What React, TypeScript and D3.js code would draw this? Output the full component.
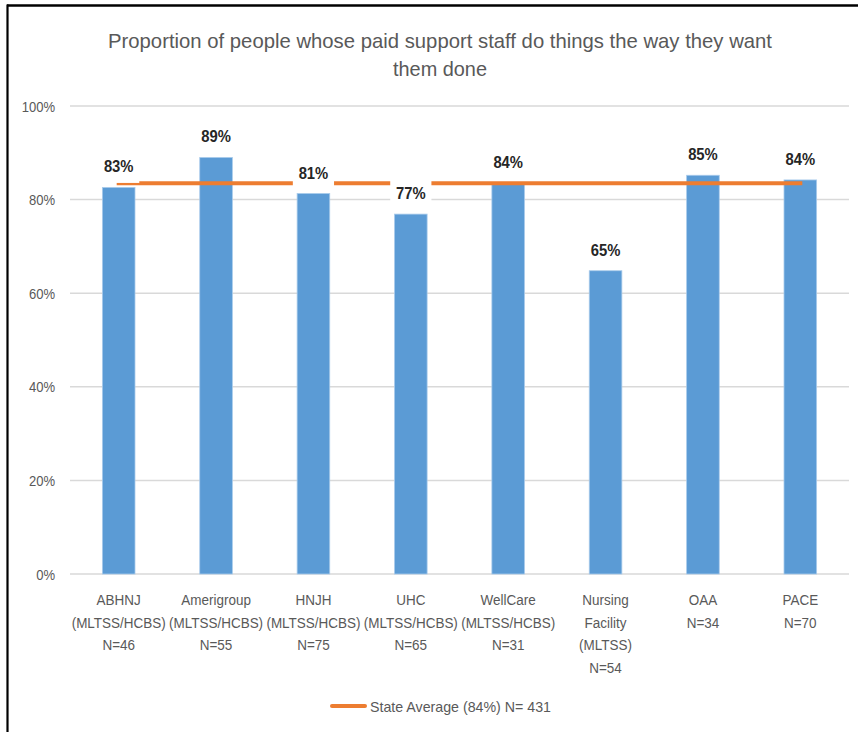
import React from "react";
import * as d3 from "d3";

const categories: string[][] = [
  ["ABHNJ", "(MLTSS/HCBS)", "N=46"],
  ["Amerigroup", "(MLTSS/HCBS)", "N=55"],
  ["HNJH", "(MLTSS/HCBS)", "N=75"],
  ["UHC", "(MLTSS/HCBS)", "N=65"],
  ["WellCare", "(MLTSS/HCBS)", "N=31"],
  ["Nursing", "Facility", "(MLTSS)", "N=54"],
  ["OAA", "N=34"],
  ["PACE", "N=70"],
];
const categoryKeys = ["ABHNJ", "Amerigroup", "HNJH", "UHC", "WellCare", "Nursing Facility", "OAA", "PACE"];
const values = [0.826, 0.89, 0.813, 0.769, 0.836, 0.648, 0.852, 0.842];
const stateAverage = [0.835, 0.835, 0.835, 0.835, 0.835, 0.835, 0.835, 0.835];
const yTicks = [0, 0.2, 0.4, 0.6, 0.8, 1.0];
const titleLines = [
  "Proportion of people whose paid support staff do things the way they want",
  "them done",
];
const legendLabel = "State Average (84%) N= 431";

const W = 858;
const H = 732;
const FONT = "'Liberation Sans', Arial, sans-serif";
const SX = 0.87;

type NT = {
  x: number;
  y: number;
  anchor?: "start" | "middle" | "end";
  size: number;
  weight?: string;
  fill: string;
  children: React.ReactNode;
};

function NarrowText({ x, y, anchor = "start", size, weight = "normal", fill, children }: NT) {
  return (
    <g transform={`translate(${x},${y}) scale(${SX},1)`}>
      <text x={0} y={0} textAnchor={anchor} fontSize={size} fontWeight={weight} fill={fill}>
        {children}
      </text>
    </g>
  );
}

export default function App() {
  const x = d3.scaleBand<string>().domain(categoryKeys).range([70, 849]).paddingInner(0).paddingOuter(0);
  const y = d3.scaleLinear().domain([0, 1]).range([574, 106]);
  const bw = x.bandwidth() * 0.335;
  const fmt = d3.format(".0%");
  const cx = (k: string) => (x(k) as number) + x.bandwidth() / 2;

  const line = d3
    .line<number>()
    .x((_, i) => cx(categoryKeys[i]))
    .y((d) => y(d));

  return (
    <svg
      width={W}
      height={H}
      style={{ position: "absolute", left: 0, top: 0, background: "#fff" }}
      fontFamily={FONT}
    >
      <rect x={0} y={0} width={W} height={H} fill="#fff" />
      {/* frame */}
      <line x1={7} y1={5.5} x2={W} y2={5.5} stroke="#000" strokeWidth={2.5} />
      <line x1={7.5} y1={4.5} x2={7.5} y2={H} stroke="#000" strokeWidth={2.2} />

      {/* title */}
      <text x={440} y={48} textAnchor="middle" fontSize={21} fill="#595959" textLength={664} lengthAdjust="spacingAndGlyphs">
        {titleLines[0]}
      </text>
      <text x={440} y={76} textAnchor="middle" fontSize={21} fill="#595959" textLength={94} lengthAdjust="spacingAndGlyphs">
        {titleLines[1]}
      </text>

      {/* gridlines and y labels */}
      {yTicks.map((t) => (
        <g key={t}>
          <line x1={70} x2={849} y1={y(t)} y2={y(t)} stroke="#D9D9D9" strokeWidth={1.5} />
          <NarrowText x={55} y={y(t) + 5.5} anchor="end" size={15} fill="#595959">
            {fmt(t)}
          </NarrowText>
        </g>
      ))}

      {/* bars */}
      {values.map((v, i) => (
        <rect
          key={i}
          x={cx(categoryKeys[i]) - bw / 2}
          y={y(v)}
          width={bw}
          height={y(0) - y(v)}
          fill="#5B9BD5"
          stroke="#A9CBEB"
          strokeWidth={0.8}
        />
      ))}

      {/* state average line */}
      <path d={line(stateAverage) || ""} fill="none" stroke="#ED7D31" strokeWidth={4} strokeLinecap="square" />

      {/* data labels */}
      {values.map((v, i) => {
        const c = y(v) - 21;
        const px = cx(categoryKeys[i]);
        return (
          <g key={i}>
            <rect x={px - 20.6} y={c - 15} width={41.2} height={31.5} fill="#fff" />
            <NarrowText x={px} y={c + 6} anchor="middle" size={17} weight="bold" fill="#262626">
              {fmt(v)}
            </NarrowText>
          </g>
        );
      })}

      {/* category labels */}
      {categories.map((lines, i) =>
        lines.map((l, j) => (
          <NarrowText key={`${i}-${j}`} x={cx(categoryKeys[i])} y={605 + j * 22.5} anchor="middle" size={15.5} fill="#595959">
            {l}
          </NarrowText>
        ))
      )}

      {/* legend */}
      <line x1={332} x2={365} y1={706} y2={706} stroke="#ED7D31" strokeWidth={4} strokeLinecap="round" />
      <text x={370} y={711.5} fontSize={15} fill="#595959" textLength={181} lengthAdjust="spacingAndGlyphs">
        {legendLabel}
      </text>
    </svg>
  );
}
